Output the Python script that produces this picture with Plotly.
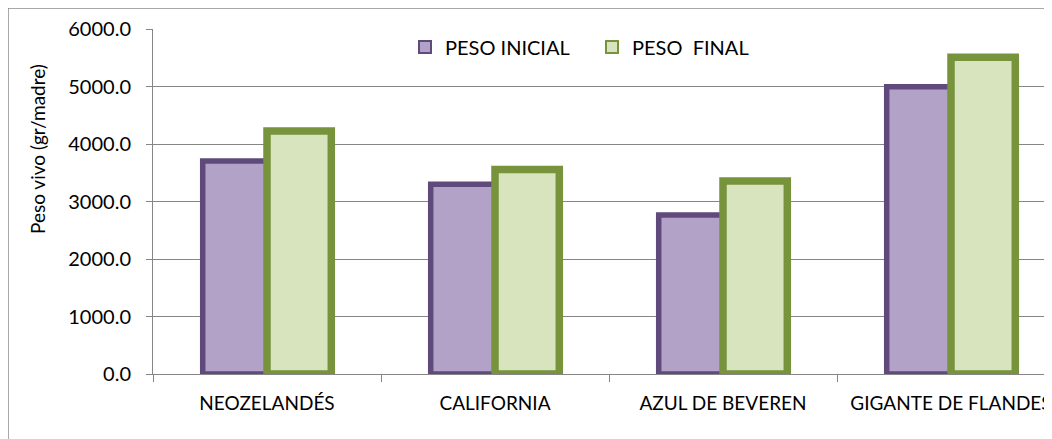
import plotly.graph_objects as go

categories = ["NEOZELANDÉS", "CALIFORNIA", "AZUL DE BEVEREN", "GIGANTE DE FLANDES"]
peso_inicial = [3705, 3300, 2765, 4995]
peso_final = [4225, 3555, 3355, 5510]
series_names = ["PESO INICIAL", "PESO\u00a0 FINAL"]
y_ticks = [0, 1000, 2000, 3000, 4000, 5000, 6000]
y_title = "Peso vivo (gr/madre)"

FONT = "Lato"
OFF = 8                       # default page body margin
W, H = 1052 - OFF, 439 - OFF
L, T = 153 - OFF, 29 - OFF
PH = 345
B = H - T - PH
plot_w = W - L
cat_px = 228.0
x_max = -0.5 + plot_w / cat_px

fig = go.Figure()
fig.add_trace(go.Bar(
    x=categories, y=peso_inicial, name=series_names[0],
    marker=dict(color="#B3A2C7", line=dict(color="#604A7B", width=5.5)),
))
fig.add_trace(go.Bar(
    x=categories, y=peso_final, name=series_names[1],
    marker=dict(color="#D7E4BD", line=dict(color="#77933C", width=7.5)),
))

fig.update_layout(
    width=W, height=H,
    margin=dict(l=L, r=0, t=T, b=B, autoexpand=False),
    paper_bgcolor="white", plot_bgcolor="white",
    font=dict(family=FONT, size=20, color="#000000"),
    barmode="group", bargap=0.436, bargroupgap=0,
    showlegend=True,
    legend=dict(
        orientation="h", x=(405 - 153) / plot_w, xanchor="left",
        y=(374 - 47) / PH, yanchor="middle",
        font=dict(family=FONT, size=20, color="#000000"),
        bgcolor="rgba(0,0,0,0)", entrywidth=142, entrywidthmode="pixels",
        itemsizing="constant",
    ),
    xaxis=dict(
        range=[-0.5, x_max], showline=True, linecolor="#868686", linewidth=1,
        ticks="outside", tickson="boundaries", ticklen=7, tickcolor="#868686",
        showgrid=False, ticklabelstandoff=12,
        tickfont=dict(family=FONT, size=19),
    ),
    yaxis=dict(
        range=[0, 6000], tickvals=y_ticks, tickformat=".1f",
        showline=True, linecolor="#868686", linewidth=1,
        ticks="outside", ticklen=6, tickcolor="#868686",
        showgrid=True, gridcolor="#868686", gridwidth=1, zeroline=False,
        ticklabelstandoff=11,
        tickfont=dict(family=FONT, size=20),
    ),
)

# y-axis title (sits above the axis centre in the reference)
fig.add_annotation(
    text=y_title, textangle=-90, showarrow=False,
    xref="paper", yref="paper",
    x=(37 - 153) / plot_w, xanchor="center",
    y=(374 - 149) / PH, yanchor="middle",
    font=dict(family=FONT, size=19, color="#000000"),
)

# outer chart-area border (extends beyond the visible picture on right/bottom)
fig.add_shape(type="rect", xref="paper", yref="paper",
              x0=-L / plot_w, x1=1.2, y0=-0.4, y1=(PH + T) / PH,
              line=dict(color="#8C8C8C", width=1.5), fillcolor="rgba(0,0,0,0)", layer="below")

fig.write_html("out.html")
